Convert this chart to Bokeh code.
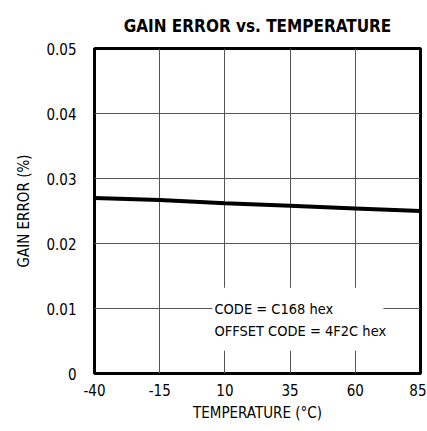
from bokeh.plotting import figure
from bokeh.models import Range1d, FixedTicker, NumeralTickFormatter, BoxAnnotation, Label
from bokeh.embed import file_html
from bokeh.resources import INLINE

FONT = "DejaVu Sans Condensed, Roboto, sans-serif"

temperature = [-40, -15, 10, 35, 60, 85]
gain_error = [0.0270, 0.0267, 0.0262, 0.0258, 0.0254, 0.0250]
x_ticks = [-40, -15, 10, 35, 60, 85]
x_tick_labels = ["-40", "-15", "10", "35", "60", "85"]
y_ticks = [0, 0.01, 0.02, 0.03, 0.04, 0.05]
title_text = "GAIN ERROR vs. TEMPERATURE"
note_lines = ["CODE = C168 hex", "OFFSET CODE = 4F2C hex"]

p = figure(width=426, height=430, output_backend="svg", toolbar_location=None,
           x_range=Range1d(-40, 85), y_range=Range1d(0, 0.05),
           min_border_left=94, min_border_right=6, min_border_top=46, min_border_bottom=57)

p.title.text = title_text
p.title.align = "center"
p.title.text_font = FONT
p.title.text_font_style = "bold"
p.title.text_font_size = "17px"
p.title.text_color = "black"
p.title.standoff = 26

p.outline_line_color = "black"
p.outline_line_width = 3
p.outline_line_alpha = 1

for ax in (p.xaxis[0], p.yaxis[0]):
    ax.axis_line_color = None
    ax.major_tick_line_color = None
    ax.minor_tick_line_color = None
    ax.major_label_text_font = FONT
    ax.major_label_text_font_size = "15px"
    ax.major_label_text_color = "black"
    ax.axis_label_text_font = FONT
    ax.axis_label_text_font_style = "normal"
    ax.axis_label_text_font_size = "15px"
    ax.axis_label_text_color = "black"

p.xaxis.ticker = FixedTicker(ticks=x_ticks)
p.xaxis.major_label_overrides = {t: s for t, s in zip(x_ticks, x_tick_labels)}
p.yaxis.ticker = FixedTicker(ticks=y_ticks)
p.yaxis.formatter = NumeralTickFormatter(format="0.[00]")
p.xaxis.axis_label = "TEMPERATURE (°C)"
p.yaxis.axis_label = "GAIN ERROR (%)"
p.xaxis.major_label_standoff = 4
p.yaxis.major_label_standoff = 12
p.yaxis.axis_label_standoff = 10
p.xaxis.axis_label_standoff = 5

p.xgrid.ticker = FixedTicker(ticks=x_ticks)
p.ygrid.ticker = FixedTicker(ticks=y_ticks)
for g in (p.xgrid[0], p.ygrid[0]):
    g.grid_line_color = "#555555"
    g.grid_line_width = 1

p.line(temperature, gain_error, line_color="black", line_width=4)

p.add_layout(BoxAnnotation(left=5.2, right=70.8, bottom=0.0035, top=0.0132,
                           fill_color="white", fill_alpha=1, line_alpha=0))
p.add_layout(Label(x=6.0, y=0.0099, text=note_lines[0], text_font=FONT,
                   text_font_size="14.5px", text_color="black", text_baseline="alphabetic"))
p.add_layout(Label(x=6.0, y=0.0066, text=note_lines[1], text_font=FONT,
                   text_font_size="14.5px", text_color="black", text_baseline="alphabetic"))

open("out.html", "w").write(file_html(p, INLINE))
